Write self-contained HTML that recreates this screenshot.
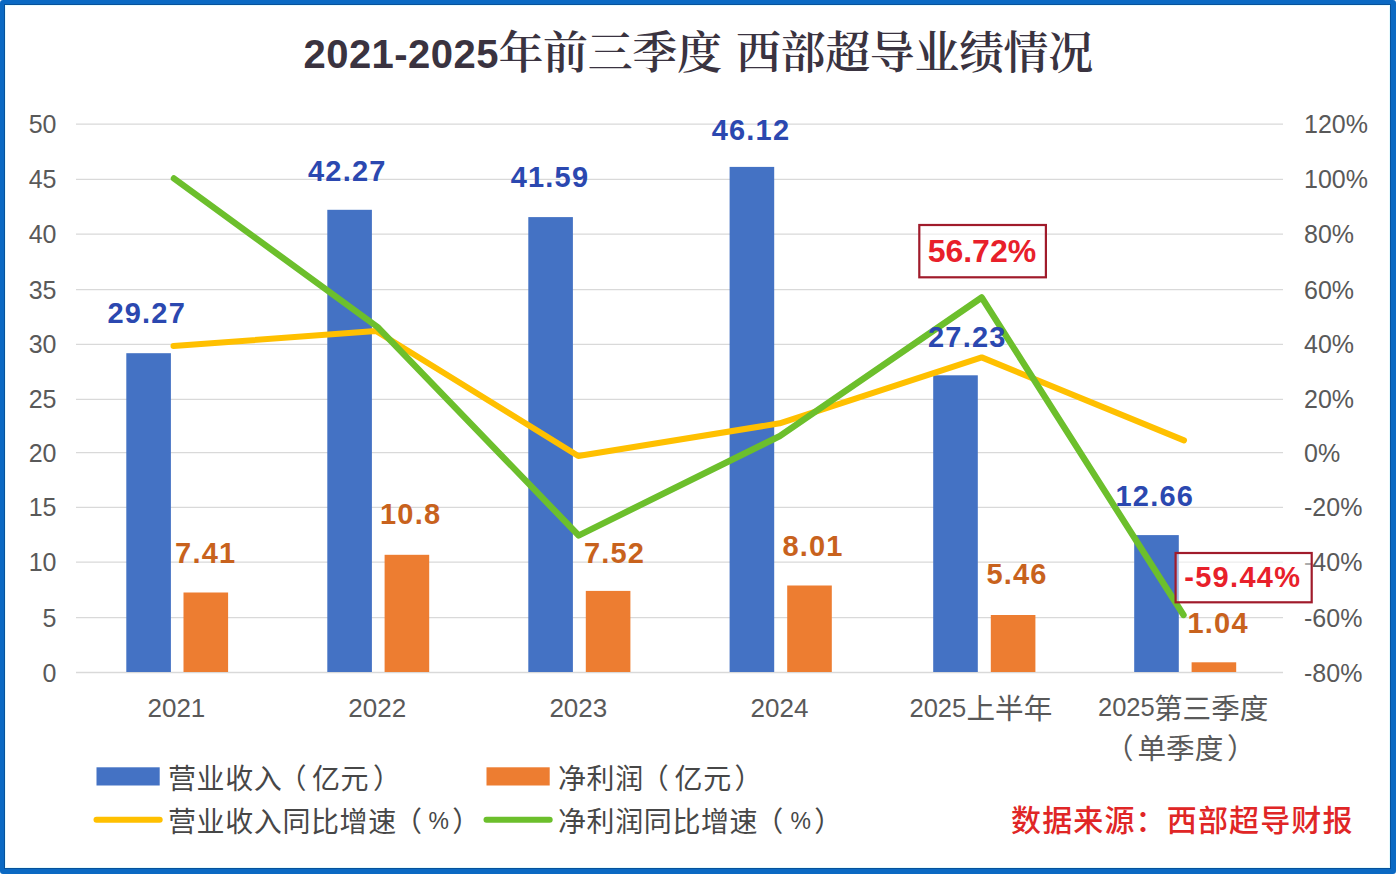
<!DOCTYPE html>
<html><head><meta charset="utf-8"><title>2021-2025年前三季度 西部超导业绩情况</title>
<style>
html,body{margin:0;padding:0;background:#fff;}
body{width:1396px;height:874px;overflow:hidden;position:relative;}
.frame{position:absolute;left:0;top:0;width:1396px;height:874px;box-sizing:border-box;border-style:solid;border-color:#0b69c3;border-width:4px 5px 5px 4px;border-radius:3px;background:#fff;box-shadow:inset 0 0 0 1px #07519a,inset 0 0 0 2px #e6fbff;}
svg{position:absolute;left:0;top:0;}
.ax{font-family:"Liberation Sans",Arial,sans-serif;font-size:25px;fill:#595959;}
.cj{font-family:"Liberation Sans","Noto Sans CJK SC",sans-serif;font-size:28px;fill:#474747;letter-spacing:0.6px;}
.cx{font-family:"Noto Sans CJK SC",sans-serif;font-size:28.6px;fill:#595959;}
.lb{font-family:"Liberation Sans",Arial,sans-serif;font-weight:bold;}
.tt{fill:#3a3340;}
</style></head><body>
<div class="frame"></div>
<svg width="1396" height="874" viewBox="0 0 1396 874">

<text class="tt" x="303.5" y="67.6" style="font-family:'Liberation Sans',sans-serif;font-weight:bold;font-size:40px;letter-spacing:0.45px">2021-2025</text>
<text class="tt" x="498.5" y="69" style="font-family:'Liberation Serif','Noto Serif CJK SC',serif;font-weight:600;font-size:45px;letter-spacing:-0.4px">年前三季度</text>
<text class="tt" x="736" y="69" style="font-family:'Liberation Serif','Noto Serif CJK SC',serif;font-weight:600;font-size:45px;letter-spacing:-0.4px">西部超导业绩情况</text>
<line x1="76" y1="124.1" x2="1283" y2="124.1" stroke="#d9d9d9" stroke-width="1.3"/>
<line x1="76" y1="179.4" x2="1283" y2="179.4" stroke="#d9d9d9" stroke-width="1.3"/>
<line x1="76" y1="234.2" x2="1283" y2="234.2" stroke="#d9d9d9" stroke-width="1.3"/>
<line x1="76" y1="289.6" x2="1283" y2="289.6" stroke="#d9d9d9" stroke-width="1.3"/>
<line x1="76" y1="344.4" x2="1283" y2="344.4" stroke="#d9d9d9" stroke-width="1.3"/>
<line x1="76" y1="399.4" x2="1283" y2="399.4" stroke="#d9d9d9" stroke-width="1.3"/>
<line x1="76" y1="452.6" x2="1283" y2="452.6" stroke="#d9d9d9" stroke-width="1.3"/>
<line x1="76" y1="507.4" x2="1283" y2="507.4" stroke="#d9d9d9" stroke-width="1.3"/>
<line x1="76" y1="562.2" x2="1283" y2="562.2" stroke="#d9d9d9" stroke-width="1.3"/>
<line x1="76" y1="617.7" x2="1283" y2="617.7" stroke="#d9d9d9" stroke-width="1.3"/>
<line x1="76" y1="672.5" x2="1283" y2="672.5" stroke="#d9d9d9" stroke-width="1.3"/>
<text class="ax" x="56.5" y="133.1" text-anchor="end">50</text>
<text class="ax" x="56.5" y="188.4" text-anchor="end">45</text>
<text class="ax" x="56.5" y="243.2" text-anchor="end">40</text>
<text class="ax" x="56.5" y="298.6" text-anchor="end">35</text>
<text class="ax" x="56.5" y="353.4" text-anchor="end">30</text>
<text class="ax" x="56.5" y="408.4" text-anchor="end">25</text>
<text class="ax" x="56.5" y="461.6" text-anchor="end">20</text>
<text class="ax" x="56.5" y="516.4" text-anchor="end">15</text>
<text class="ax" x="56.5" y="571.2" text-anchor="end">10</text>
<text class="ax" x="56.5" y="626.7" text-anchor="end">5</text>
<text class="ax" x="56.5" y="681.5" text-anchor="end">0</text>
<text class="ax" x="1304" y="133.1">120%</text>
<text class="ax" x="1304" y="188.4">100%</text>
<text class="ax" x="1304" y="243.2">80%</text>
<text class="ax" x="1304" y="298.6">60%</text>
<text class="ax" x="1304" y="353.4">40%</text>
<text class="ax" x="1304" y="408.4">20%</text>
<text class="ax" x="1304" y="461.6">0%</text>
<text class="ax" x="1304" y="516.4">-20%</text>
<text class="ax" x="1304" y="571.2">-40%</text>
<text class="ax" x="1304" y="626.7">-60%</text>
<text class="ax" x="1304" y="681.5">-80%</text>
<rect x="126.3" y="353.2" width="44.6" height="318.8" fill="#4472c4"/>
<rect x="327.3" y="209.8" width="44.6" height="462.2" fill="#4472c4"/>
<rect x="528.3" y="217.1" width="44.6" height="454.9" fill="#4472c4"/>
<rect x="729.6" y="166.9" width="44.6" height="505.1" fill="#4472c4"/>
<rect x="933.2" y="375.3" width="44.6" height="296.7" fill="#4472c4"/>
<rect x="1134.2" y="535.1" width="44.6" height="136.9" fill="#4472c4"/>
<rect x="183.5" y="592.5" width="44.6" height="79.5" fill="#ed7d31"/>
<rect x="384.6" y="554.8" width="44.6" height="117.2" fill="#ed7d31"/>
<rect x="585.8" y="590.9" width="44.6" height="81.1" fill="#ed7d31"/>
<rect x="787.2" y="585.5" width="44.6" height="86.5" fill="#ed7d31"/>
<rect x="990.8" y="615" width="44.6" height="57.0" fill="#ed7d31"/>
<rect x="1191.6" y="662.3" width="44.6" height="9.7" fill="#ed7d31"/>
<polyline points="173.5,346 376,331 578.3,456 779.7,423.3 981.7,357.4 1184,440.4" fill="none" stroke="#ffc000" stroke-width="6.0" stroke-linejoin="round" stroke-linecap="round"/>
<polyline points="174,178.5 377.5,327 578.7,535.5 779.7,436.1 981.7,297.5 1183.5,615" fill="none" stroke="#6cbf2c" stroke-width="6.4" stroke-linejoin="round" stroke-linecap="round"/>
<text class="ax" x="176.4" y="716.6" text-anchor="middle" style="font-size:26px">2021</text>
<text class="ax" x="377.2" y="716.6" text-anchor="middle" style="font-size:26px">2022</text>
<text class="ax" x="578.3" y="716.6" text-anchor="middle" style="font-size:26px">2023</text>
<text class="ax" x="779.5" y="716.6" text-anchor="middle" style="font-size:26px">2024</text>
<text class="ax" x="909.5" y="716.5" style="font-size:25.5px">2025<tspan class="cx" x="966.5" y="719">上半年</tspan></text>
<text class="ax" x="1098" y="716.3" style="font-size:25.5px">2025<tspan class="cx" x="1154" y="719">第三季度</tspan></text>
<text class="cx" x="1105" y="759">（<tspan x="1137.5">单季度</tspan><tspan x="1227">）</tspan></text>
<rect x="919.3" y="225" width="126.6" height="52.3" fill="#fff" fill-opacity="0.5" stroke="#a01b2b" stroke-width="2.2"/>
<rect x="1175.6" y="553" width="136.1" height="49.3" fill="#fff" fill-opacity="0.5" stroke="#a01b2b" stroke-width="2.2"/>
<text class="lb" x="146.70" y="323.00" text-anchor="middle" fill="#2b48b0" style="font-size:29px;letter-spacing:1.2px">29.27</text>
<text class="lb" x="347.30" y="180.60" text-anchor="middle" fill="#2b48b0" style="font-size:29px;letter-spacing:1.2px">42.27</text>
<text class="lb" x="550.00" y="187.20" text-anchor="middle" fill="#2b48b0" style="font-size:29px;letter-spacing:1.2px">41.59</text>
<text class="lb" x="751.00" y="139.60" text-anchor="middle" fill="#2b48b0" style="font-size:29px;letter-spacing:1.2px">46.12</text>
<text class="lb" x="967.30" y="347.00" text-anchor="middle" fill="#2b48b0" style="font-size:29px;letter-spacing:1.2px">27.23</text>
<text class="lb" x="1154.80" y="505.60" text-anchor="middle" fill="#2b48b0" style="font-size:29px;letter-spacing:1.2px">12.66</text>
<text class="lb" x="205.70" y="562.60" text-anchor="middle" fill="#c8621d" style="font-size:29px;letter-spacing:1.2px">7.41</text>
<text class="lb" x="410.60" y="524.40" text-anchor="middle" fill="#c8621d" style="font-size:29px;letter-spacing:1.2px">10.8</text>
<text class="lb" x="614.50" y="563.00" text-anchor="middle" fill="#c8621d" style="font-size:29px;letter-spacing:1.2px">7.52</text>
<text class="lb" x="813.00" y="556.00" text-anchor="middle" fill="#c8621d" style="font-size:29px;letter-spacing:1.2px">8.01</text>
<text class="lb" x="1017.00" y="584.40" text-anchor="middle" fill="#c8621d" style="font-size:29px;letter-spacing:1.2px">5.46</text>
<text class="lb" x="1218.10" y="632.60" text-anchor="middle" fill="#c8621d" style="font-size:29px;letter-spacing:1.2px">1.04</text>
<text class="lb" x="981.90" y="261.80" text-anchor="middle" fill="#e8202a" style="font-size:32px;letter-spacing:0px">56.72%</text>
<text class="lb" x="1242.80" y="587.20" text-anchor="middle" fill="#e8202a" style="font-size:29px;letter-spacing:1.3px">-59.44%</text>
<rect x="96.5" y="767.3" width="63.2" height="18.2" fill="#4472c4"/>
<rect x="486.5" y="767.3" width="63.2" height="18.2" fill="#ed7d31"/>
<line x1="96.5" y1="819.8" x2="159.7" y2="819.8" stroke="#ffc000" stroke-width="6" stroke-linecap="round"/>
<line x1="486.5" y1="819.8" x2="549.7" y2="819.8" stroke="#6cbf2c" stroke-width="6" stroke-linecap="round"/>
<text class="cj" x="168" y="788.5">营业收入<tspan x="278.5">（</tspan><tspan x="312">亿元</tspan><tspan x="373">）</tspan></text>
<text class="cj" x="558" y="788.5">净利润<tspan x="640.8">（</tspan><tspan x="674.6">亿元</tspan><tspan x="734.5">）</tspan></text>
<text class="cj" x="168" y="831.5">营业收入同比增速<tspan x="393.9">（</tspan><tspan x="428.4" y="829" style="font-size:23px;font-family:'Liberation Sans',sans-serif">%</tspan><tspan x="452.3" y="831.5">）</tspan></text>
<text class="cj" x="558" y="831.5">净利润同比增速<tspan x="755.2">（</tspan><tspan x="790.5" y="829" style="font-size:23px;font-family:'Liberation Sans',sans-serif">%</tspan><tspan x="814.3" y="831.5">）</tspan></text>
<text x="1011" y="831" style="font-family:'Liberation Sans','Noto Sans CJK SC',sans-serif;font-size:30px;letter-spacing:1.15px;font-weight:500;fill:#e02626">数据来源：西部超导财报</text>
</svg></body></html>
